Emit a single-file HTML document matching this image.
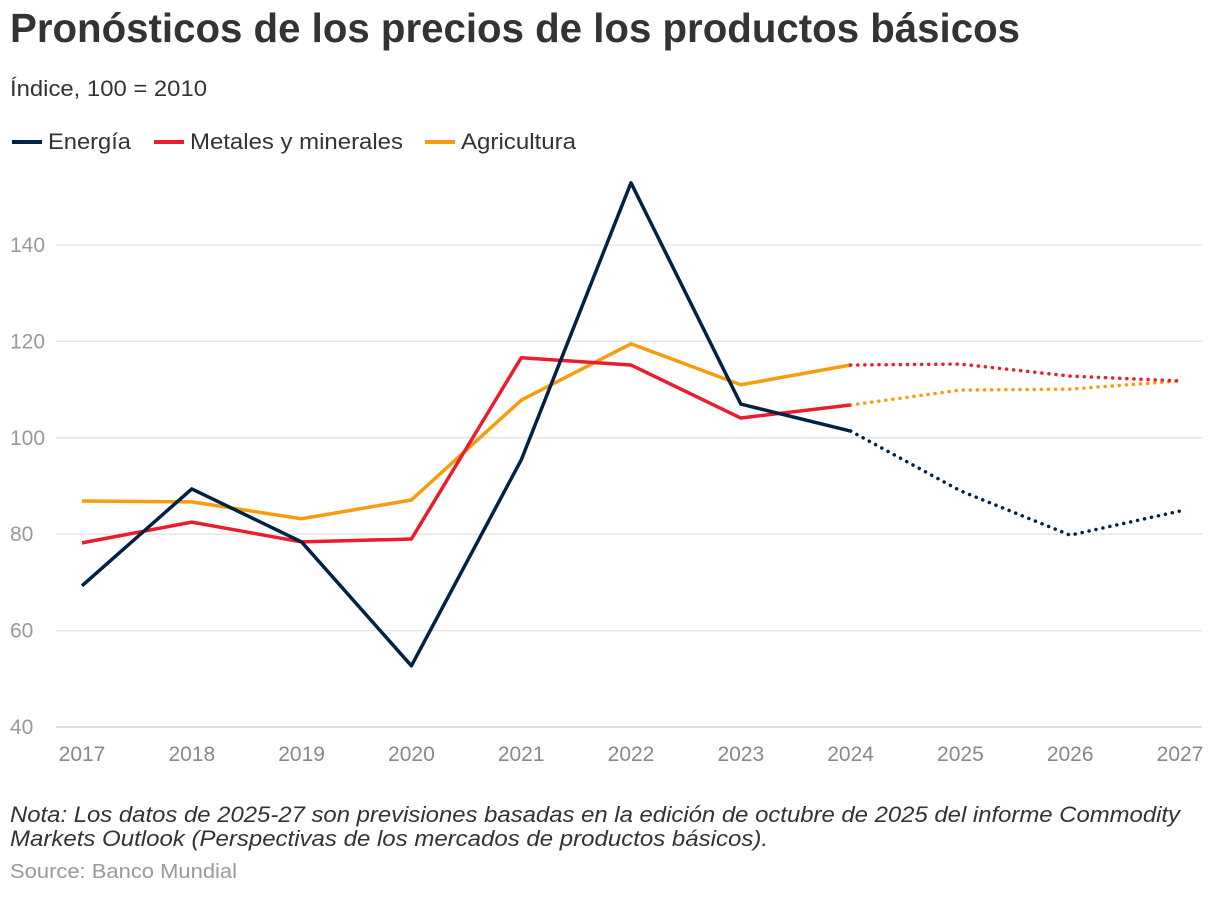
<!DOCTYPE html>
<html><head><meta charset="utf-8"><style>
body{margin:0;background:#fff;width:1220px;height:894px;overflow:hidden;font-family:"Liberation Sans",sans-serif;}
svg text{font-family:"Liberation Sans",sans-serif;}
</style></head><body>
<svg id="chart" width="1220" height="894" xmlns="http://www.w3.org/2000/svg">
<text x="10" y="42" font-size="41" font-weight="bold" fill="#333" textLength="1010" lengthAdjust="spacingAndGlyphs">Pronósticos de los precios de los productos básicos</text>
<text x="10" y="96" font-size="22" fill="#333" textLength="197" lengthAdjust="spacingAndGlyphs">Índice, 100 = 2010</text>
<g>
<line x1="12" y1="142" x2="42" y2="142" stroke="#002244" stroke-width="4"/>
<text x="48" y="149" font-size="22" fill="#333" textLength="83" lengthAdjust="spacingAndGlyphs">Energía</text>
<line x1="154" y1="142" x2="184" y2="142" stroke="#eb1c2d" stroke-width="4"/>
<text x="190" y="149" font-size="22" fill="#333" textLength="213" lengthAdjust="spacingAndGlyphs">Metales y minerales</text>
<line x1="425" y1="142" x2="455" y2="142" stroke="#f89c0e" stroke-width="4"/>
<text x="461" y="149" font-size="22" fill="#333" textLength="115" lengthAdjust="spacingAndGlyphs">Agricultura</text>
</g>
<g id="grid"></g>
<g id="series"></g>
<text font-size="22" font-style="italic" fill="#333"><tspan x="10" y="822" textLength="1170" lengthAdjust="spacingAndGlyphs">Nota: Los datos de 2025-27 son previsiones basadas en la edición de octubre de 2025 del informe Commodity</tspan><tspan x="10" y="846" textLength="758" lengthAdjust="spacingAndGlyphs">Markets Outlook (Perspectivas de los mercados de productos básicos).</tspan></text>
<text x="10" y="878" font-size="20" fill="#999" textLength="227" lengthAdjust="spacingAndGlyphs">Source: Banco Mundial</text>
</svg>
<script>
const years=[2017,2018,2019,2020,2021,2022,2023,2024,2025,2026,2027];
const yTicks=[40,60,80,100,120,140];
const energia=[69.3,89.4,78.4,52.7,95.4,152.9,107,101.4,89,79.8,84.8];
const metales=[78.2,82.5,78.4,79,116.6,115.1,104.1,106.8,115.3,112.8,111.8];
const agricultura=[86.9,86.7,83.2,87.1,107.8,119.5,111,115.1,109.9,110.1,111.8];
const forecastStart=2024;
const NS="http://www.w3.org/2000/svg";
const x=v=>82+(v-2017)*109.8;
const y=v=>727-(v-40)*4.82;
const grid=document.getElementById('grid');
yTicks.forEach(t=>{
 const l=document.createElementNS(NS,'line');
 
 
 l.setAttribute('x1',56);l.setAttribute('x2',1202);l.setAttribute('y1',y(t));l.setAttribute('y2',y(t));
 l.setAttribute('stroke',t===40?'#ccc':'#e3e3e3');l.setAttribute('stroke-width',1.3);
 grid.appendChild(l);
 const tx=document.createElementNS(NS,'text');
 
 
 tx.setAttribute('x',10);tx.setAttribute('y',y(t)+7);tx.setAttribute('font-size',21);tx.setAttribute('fill','#999');
 tx.textContent=t;grid.appendChild(tx);
});
years.forEach(yr=>{
 const tx=document.createElementNS(NS,'text');
 
 
 tx.setAttribute('x',x(yr));tx.setAttribute('y',761);tx.setAttribute('font-size',21);tx.setAttribute('fill','#888');tx.setAttribute('text-anchor','middle');
 tx.textContent=yr;grid.appendChild(tx);
});
const g=document.getElementById('series');
function draw(vals,color,name,startVals){
 const idx=years.indexOf(forecastStart);
 const pts=vals.map((v,i)=>x(years[i])+','+y(v));
 const a=document.createElementNS(NS,'polyline');
 
 
 a.setAttribute('points',pts.slice(0,idx+1).join(' '));
 a.setAttribute('fill','none');a.setAttribute('stroke',color);a.setAttribute('stroke-width',3.5);a.setAttribute('stroke-linejoin','round');
 g.appendChild(a);
 const fpts=pts.slice(idx);
 fpts[0]=x(years[idx])+','+y(startVals[idx]);
 const b=document.createElementNS(NS,'polyline');
 
 
 b.setAttribute('points',fpts.join(' '));
 b.setAttribute('fill','none');b.setAttribute('stroke',color);b.setAttribute('stroke-width',3.5);b.setAttribute('stroke-dasharray','0.1 7');b.setAttribute('stroke-linecap','round');
 g.appendChild(b);
}
draw(agricultura,'#f89c0e','agricultura',metales);
draw(metales,'#eb1c2d','metales',agricultura);
draw(energia,'#002244','energia',energia);
</script>
</body></html>
